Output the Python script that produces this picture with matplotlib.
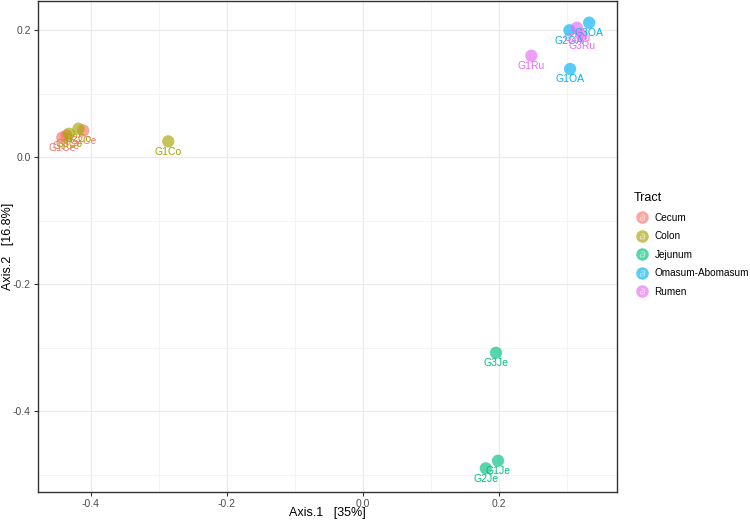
import matplotlib
matplotlib.use('Agg')
import matplotlib.pyplot as plt
from matplotlib.lines import Line2D
from matplotlib.legend_handler import HandlerTuple
from matplotlib.ticker import MultipleLocator

plt.rcParams['font.family'] = ['Liberation Sans', 'DejaVu Sans']
plt.rcParams['axes.unicode_minus'] = False

# ---- data ----
tracts = ['Cecum', 'Colon', 'Jejunum', 'Omasum-Abomasum', 'Rumen']
colors = ['#F8766D', '#A3A500', '#00BF7D', '#00B0F6', '#E76BF3']

samples = {
    'Cecum': (['G1Ce', 'G3Ce', 'G2Ce'],
              [-0.442, -0.436, -0.411], [0.031, 0.034, 0.042]),
    'Colon': (['G3Co', 'G2Co', 'G1Co'],
              [-0.432, -0.418, -0.286], [0.037, 0.045, 0.025]),
    'Jejunum': (['G3Je', 'G1Je', 'G2Je'],
                [0.196, 0.199, 0.181], [-0.308, -0.478, -0.490]),
    'Omasum-Abomasum': (['G3OA', 'G2OA', 'G1OA'],
                        [0.333, 0.304, 0.305], [0.212, 0.200, 0.139]),
    'Rumen': (['G1Ru', 'G2Ru', 'G3Ru'],
              [0.248, 0.315, 0.322], [0.160, 0.204, 0.192]),
}

# ---- figure ----
fig = plt.figure(figsize=(7.5, 5.2), dpi=100, facecolor='white')
ax = fig.add_axes([0.0503, 0.0533, 0.7724, 0.9447])

for tract, col in zip(tracts, colors):
    names, xs, ys = samples[tract]
    ax.scatter(xs, ys, s=78, color=col, alpha=0.65, edgecolors='none', zorder=3)
    for n, x, y in zip(names, xs, ys):
        ax.annotate(n, (x, y), xytext=(0, -3.8), textcoords='offset points',
                    ha='center', va='top', fontsize=7.5, color=col, zorder=4)

ax.set_xlim(-0.478, 0.374)
ax.set_ylim(-0.5277, 0.246)
ax.xaxis.set_major_locator(MultipleLocator(0.2))
ax.yaxis.set_major_locator(MultipleLocator(0.2))
ax.xaxis.set_minor_locator(MultipleLocator(0.1))
ax.yaxis.set_minor_locator(MultipleLocator(0.1))
ax.xaxis.set_major_formatter(lambda v, p: f'{v:.1f}'.replace('-0.0', '0.0'))
ax.yaxis.set_major_formatter(lambda v, p: f'{v:.1f}'.replace('-0.0', '0.0'))

ax.grid(which='major', color='#EBEBEB', linewidth=0.9, zorder=0)
ax.grid(which='minor', color='#F3F3F3', linewidth=0.6, zorder=0)
ax.set_axisbelow(True)
for sp in ax.spines.values():
    sp.set_color('#333333')
    sp.set_linewidth(1.0)
ax.tick_params(which='major', length=3, width=0.8, color='#333333',
               labelsize=7.5, labelcolor='#4D4D4D', pad=2)
ax.tick_params(which='minor', length=0)

ax.set_xlabel('Axis.1   [35%]', fontsize=9, va='center')
ax.set_ylabel('Axis.2   [16.8%]', fontsize=9, va='center')
ax.xaxis.set_label_coords(0.5, -0.042)
ax.yaxis.set_label_coords(-0.051, 0.5)

# ---- legend: circle key with "a" on top (ggplot style) ----
handles = []
for col in colors:
    dot = Line2D([], [], marker='o', linestyle='none', markersize=9,
                 markerfacecolor=col, markeredgecolor='none', alpha=0.65)
    letter = Line2D([], [], marker='$a$', linestyle='none', markersize=4.5,
                    markerfacecolor='white', markeredgecolor='none', alpha=0.6)
    handles.append((dot, letter))
leg = fig.legend(handles, tracts, handler_map={tuple: HandlerTuple(ndivide=1)},
                 loc='upper left', bbox_to_anchor=(0.838, 0.64), frameon=False,
                 title='Tract', fontsize=7.2, title_fontsize=9, borderpad=0,
                 handlelength=1.6, handletextpad=0.5, labelspacing=0.85,
                 alignment='left')

fig.savefig('out.png', dpi=100)
